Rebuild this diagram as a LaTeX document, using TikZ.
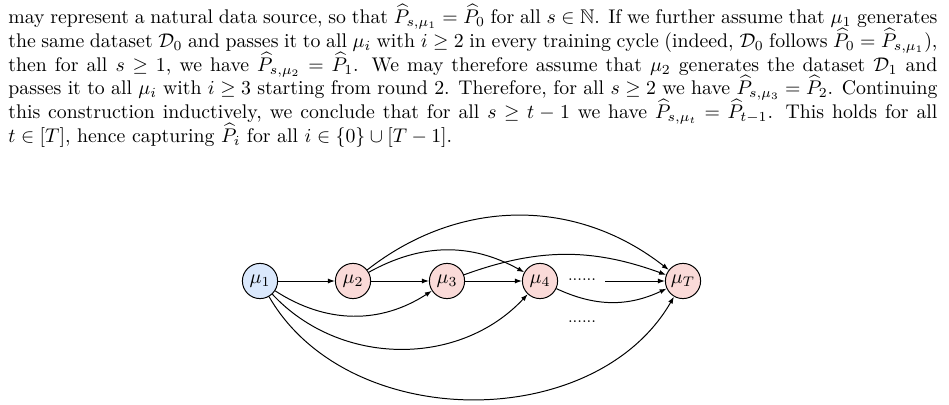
\documentclass[tikz,border=0pt]{standalone}
\usepackage{amsmath,amssymb}
\usetikzlibrary{arrows.meta}
\definecolor{mblue}{RGB}{218,232,252}
\definecolor{mred}{RGB}{250,218,216}
\tikzset{
  mnode/.style={circle, draw, line width=0.5pt, minimum size=17.8pt, inner sep=0pt, fill=mred},
  arr/.style={-{Latex[length=3.5pt,width=2.5pt]}, line width=0.5pt},
  dotsnode/.style={inner sep=0pt, font=\footnotesize}
}
\begin{document}
\begin{tikzpicture}[x=0.5056pt, y=-0.5056pt]
\useasboundingbox (0,0) rectangle (949,405);
\node[anchor=north west, text width=469.75pt, inner sep=0pt, align=justify] (para) at (8,4) {\baselineskip=12pt\lineskiplimit=-20pt\lineskip=0pt\noindent may represent a natural data source, so that $\widehat{P}_{s,\mu_1} = \widehat{P}_0$ for all $s \in \mathbb{N}$. If we further assume that $\mu_1$ generates the same dataset $\mathcal{D}_0$ and passes it to all $\mu_i$ with $i \geq 2$ in every training cycle (indeed, $\mathcal{D}_0$ follows $\widehat{P}_0 = \widehat{P}_{s,\mu_1}$), then for all $s \geq 1$, we have $\widehat{P}_{s,\mu_2} = \widehat{P}_1$. We may therefore assume that $\mu_2$ generates the dataset $\mathcal{D}_1$ and passes it to all $\mu_i$ with $i \geq 3$ starting from round 2. Therefore, for all $s \geq 2$ we have $\widehat{P}_{s,\mu_3} = \widehat{P}_2$. Continuing this construction inductively, we conclude that for all $s \geq t-1$ we have $\widehat{P}_{s,\mu_t} = \widehat{P}_{t-1}$. This holds for all $t \in [T]$, hence capturing $\widehat{P}_i$ for all $i \in \{0\} \cup [T-1]$.\par};

\node[mnode, fill=mblue] (m1) at (260,281) {$\mu_1$};
\node[mnode] (m2) at (353,281) {$\mu_2$};
\node[mnode] (m3) at (447,281) {$\mu_3$};
\node[mnode] (m4) at (540,281) {$\mu_4$};
\node[mnode] (mT) at (683,281) {$\mu_T$};
\node[dotsnode] (d1) at (582,280) {......};
\node[dotsnode] (d2) at (582,322) {......};
\coordinate (c) at (605,281);

\draw[arr] (m1) -- (m2);
\draw[arr] (m2) -- (m3);
\draw[arr] (m3) -- (m4);
\draw[arr] (c) -- (mT);
\draw[arr] (m1) to[bend right=33] (m3);
\draw[arr] (m1) to[bend right=47] (m4);
\draw[arr] (m1) to[bend right=60] (mT);
\draw[arr] (m2) to[bend left=29] (m4);
\draw[arr] (m2) to[bend left=38] (mT);
\draw[arr] (m3) to[bend left=20] (mT);
\draw[arr] (m4) to[bend right=25] (mT);
\end{tikzpicture}
\end{document}
